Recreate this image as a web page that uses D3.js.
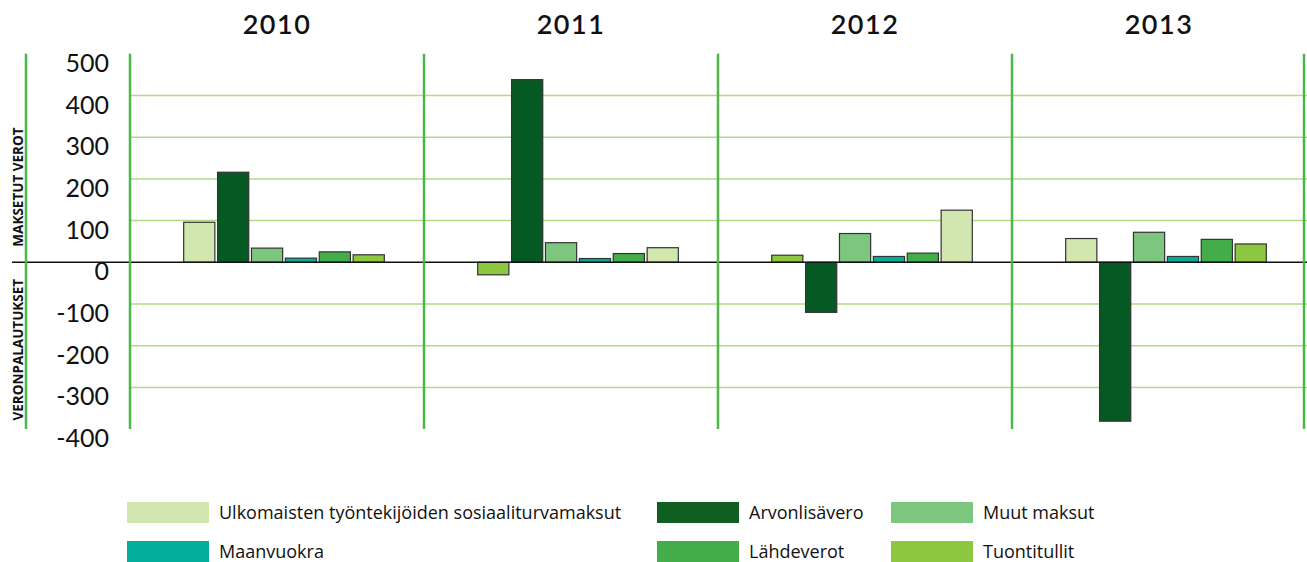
<!DOCTYPE html>
<html lang="fi">
<head>
    <meta charset="UTF-8">
    <script src="https://cdn.jsdelivr.net/npm/d3@7"></script>
    <title>Maksetut verot ja veronpalautukset</title>
    <style>
        body { margin: 0; background: #fff; }
        .tick-label { font-family: Lato, sans-serif; font-size: 25px; fill: #111; }
        .year { font-family: Lato, sans-serif; font-size: 27px; font-weight: 600; letter-spacing: 1.5px; fill: #111; }
        .side { font-family: "Open Sans", sans-serif; font-size: 13.5px; font-weight: 700; fill: #111; }
        .legend text { font-family: "Open Sans", sans-serif; font-size: 18px; fill: #111; }
    </style>
</head>
<body>
<div id="chart"></div>
<script>
    // ---- data ----
    const years = ["2010", "2011", "2012", "2013"];
    const series = ["Ulkomaisten työntekijöiden sosiaaliturvamaksut", "Arvonlisävero", "Muut maksut",
        "Maanvuokra", "Lähdeverot", "Tuontitullit"];
    const colors = ["#d2e6b0", "#045a22", "#7dc67f", "#00ae9a", "#43ad4a", "#8dc63f"];
    const legendColors = ["#d2e6b0", "#0f5e22", "#7dc67f", "#00ae9a", "#43ad4a", "#8dc63f"];

    // values per series, one per year
    const ulkomaisten = [96, 35, 125, 57];
    const arvonlisavero = [216, 438, -120, -381];
    const muutMaksut = [34, 47, 69, 72];
    const maanvuokra = [10, 9, 14, 14];
    const lahdeverot = [25, 21, 22, 55];
    const tuontitullit = [18, -30, 17, 44];
    const values = [ulkomaisten, arvonlisavero, muutMaksut, maanvuokra, lahdeverot, tuontitullit];

    // bar order inside each year group (series index)
    const barOrder = [
        [0, 1, 2, 3, 4, 5],
        [5, 1, 2, 3, 4, 0],
        [5, 1, 2, 3, 4, 0],
        [0, 1, 2, 3, 4, 5]
    ];

    const yTicks = [500, 400, 300, 200, 100, 0, -100, -200, -300, -400];
    const gridTicks = [400, 300, 200, 100, -100, -200, -300];

    // ---- layout ----
    const width = 1307, height = 562;

    const svg = d3.select("#chart").append("svg")
        .attr("width", width)
        .attr("height", height);

    const y = d3.scaleLinear().domain([-400, 500]).range([429.1, 53.8]);

    const xYear = d3.scaleBand().domain(years).range([130, 1306]).padding(0);

    const xBar = d3.scaleBand().domain(d3.range(6)).range([53, 255]).paddingInner(0.08).paddingOuter(0.02);

    // gridlines
    svg.append("g").selectAll("line")
        .data(gridTicks)
        .enter().append("line")
        .attr("x1", 130).attr("x2", width)
        .attr("y1", d => y(d)).attr("y2", d => y(d))
        .attr("stroke", "#b2da86")
        .attr("stroke-width", 1.5);

    // bars
    years.forEach((yr, yi) => {
        const g = svg.append("g").attr("transform", `translate(${xYear(yr)},0)`);
        g.selectAll("rect")
            .data(barOrder[yi].map((s, slot) => ({ s, slot, v: values[s][yi] })))
            .enter().append("rect")
            .attr("x", d => xBar(d.slot))
            .attr("width", xBar.bandwidth())
            .attr("y", d => y(Math.max(0, d.v)))
            .attr("height", d => Math.abs(y(d.v) - y(0)))
            .attr("fill", d => colors[d.s])
            .attr("stroke", "#333")
            .attr("stroke-width", 1.2);
    });

    // zero line
    svg.append("line")
        .attr("x1", 12).attr("x2", width)
        .attr("y1", y(0)).attr("y2", y(0))
        .attr("stroke", "#111")
        .attr("stroke-width", 1.6);

    // vertical separators
    const seps = [26].concat(years.map(d => xYear(d)), [xYear("2013") + xYear.bandwidth() - 2]);
    svg.append("g").selectAll("line")
        .data(seps)
        .enter().append("line")
        .attr("x1", d => d).attr("x2", d => d)
        .attr("y1", y(500)).attr("y2", y(-400))
        .attr("stroke", "#4db848")
        .attr("stroke-width", 2.5);

    // y tick labels
    const axis = svg.append("g")
        .attr("transform", "translate(109,0)")
        .call(d3.axisLeft(y).tickValues(yTicks).tickSize(0).tickPadding(0).tickFormat(d => String(d)));
    axis.select(".domain").remove();
    axis.selectAll("text")
        .attr("class", "tick-label")
        .attr("dy", "0.7em")
        .attr("x", 0);
    axis.attr("font-family", null).attr("font-size", null);

    // year headers
    svg.append("g").selectAll("text")
        .data(years)
        .enter().append("text")
        .attr("class", "year")
        .attr("x", d => xYear(d) + xYear.bandwidth() / 2)
        .attr("y", 34)
        .attr("text-anchor", "middle")
        .text(d => d);

    // side labels
    svg.append("text")
        .attr("class", "side")
        .attr("transform", `translate(23,${(y(500) + y(0)) / 2 + 29}) rotate(-90)`)
        .attr("text-anchor", "middle")
        .text("MAKSETUT VEROT");
    svg.append("text")
        .attr("class", "side")
        .attr("transform", `translate(23,${(y(0) + y(-400)) / 2 + 4}) rotate(-90)`)
        .attr("text-anchor", "middle")
        .text("VERONPALAUTUKSET");

    // legend
    const legendOrder = [0, 1, 2, 3, 4, 5];
    const legendX = [127, 657, 891];
    const legendY = [502, 541];
    const legend = svg.append("g").attr("class", "legend");
    const items = legend.selectAll("g")
        .data(legendOrder)
        .enter().append("g")
        .attr("transform", (d, i) => `translate(${legendX[i % 3]},${legendY[Math.floor(i / 3)]})`);
    items.append("rect")
        .attr("width", 82).attr("height", 21)
        .attr("fill", d => legendColors[d]);
    items.append("text")
        .attr("x", 92).attr("y", 17)
        .text(d => series[d]);
</script>
</body>
</html>
